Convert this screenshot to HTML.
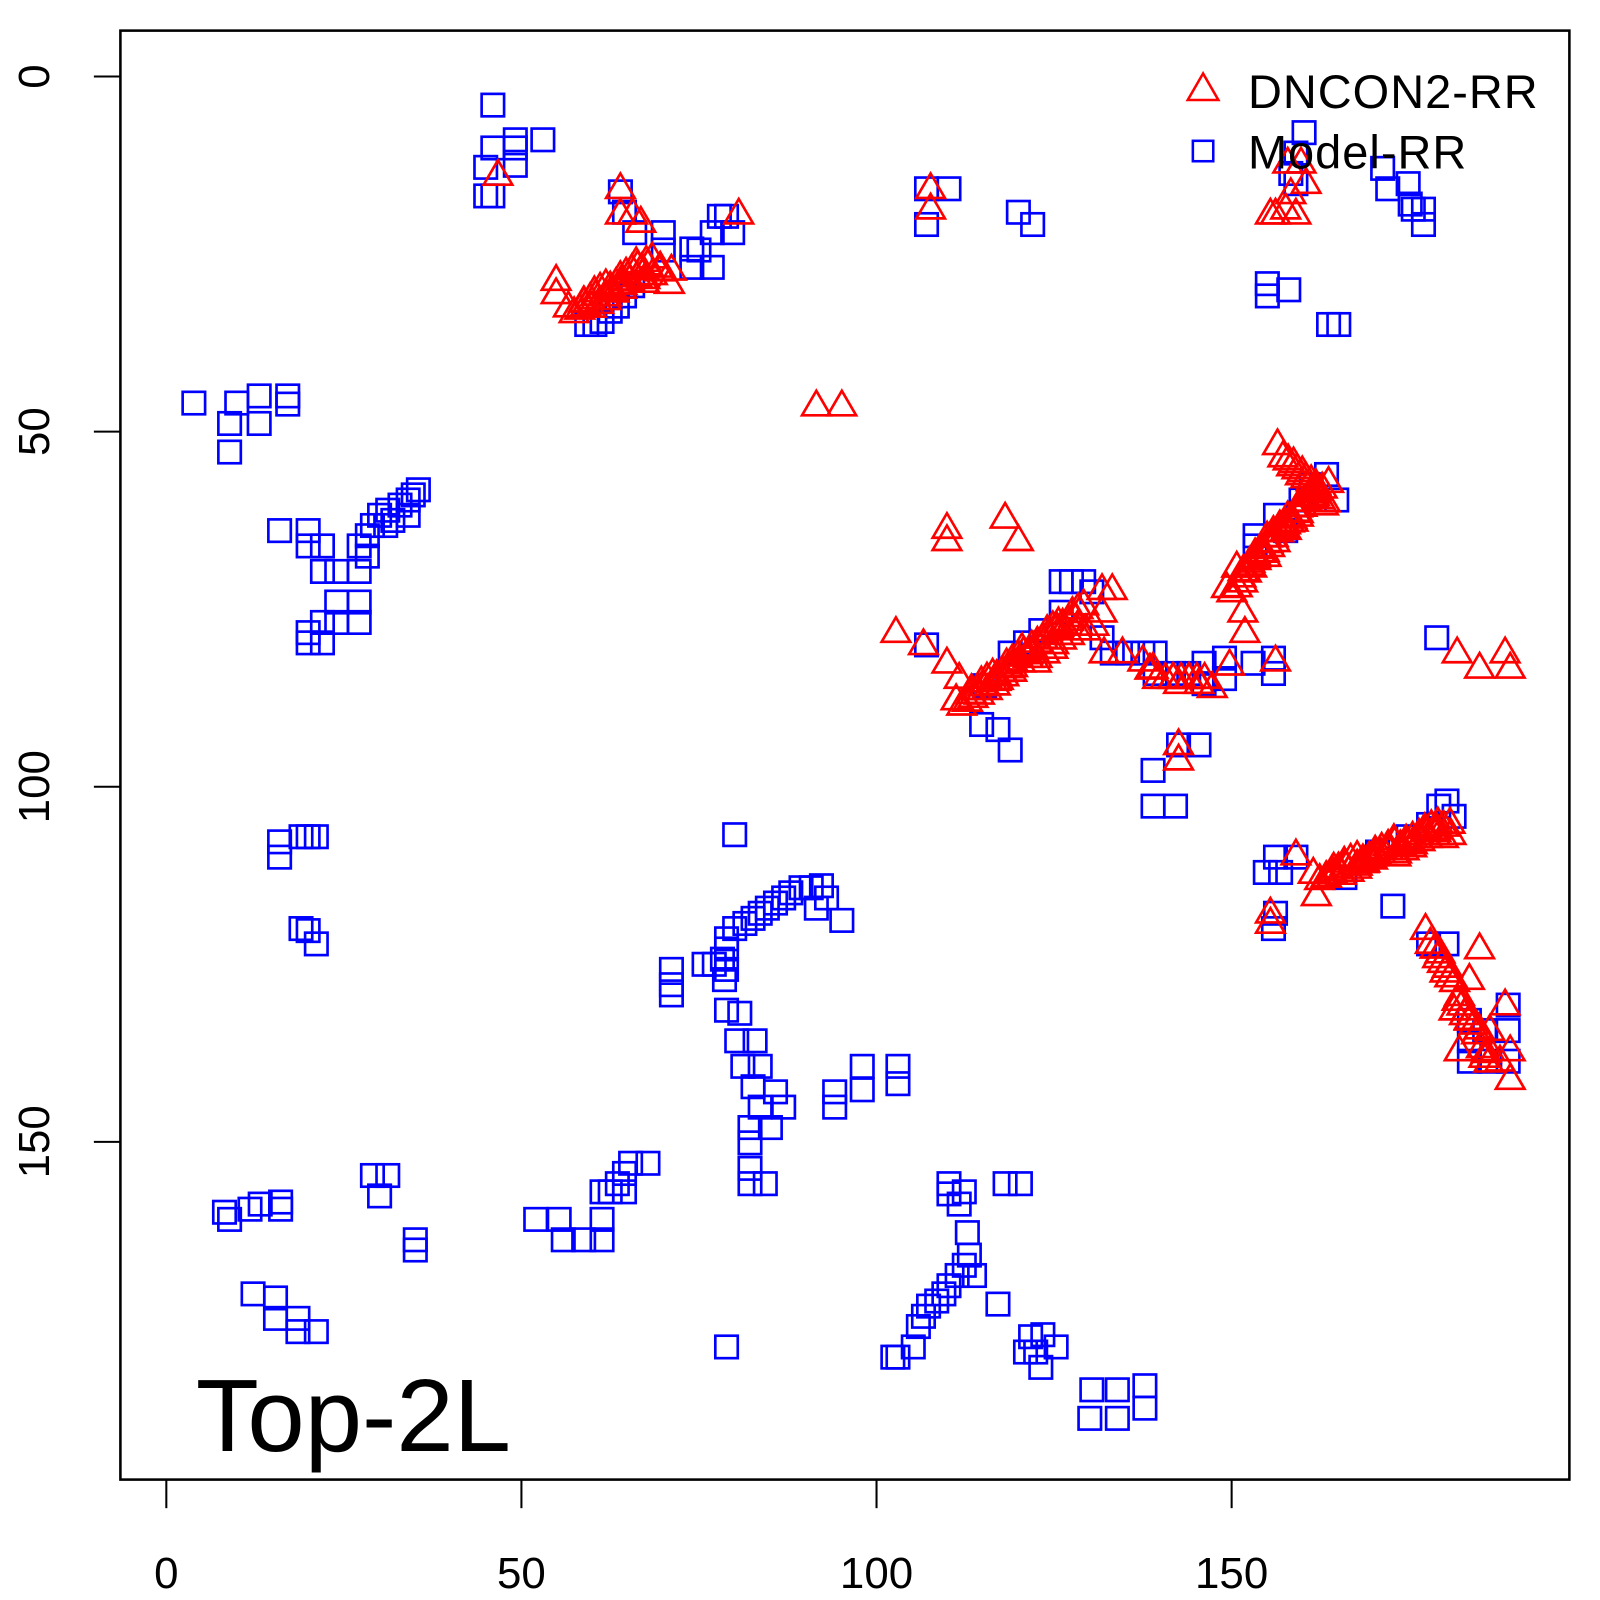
<!DOCTYPE html>
<html><head><meta charset="utf-8"><style>html,body{margin:0;padding:0;background:#fff}svg{display:block}</style></head>
<body>
<svg id="s" width="1600" height="1600" viewBox="0 0 1568 1568" xmlns="http://www.w3.org/2000/svg" font-family="Liberation Sans, Arial, sans-serif">
<rect x="0" y="0" width="1568" height="1568" fill="#fff"/>
<g id="blue" fill="none" stroke="#0000ff" stroke-width="2.6"></g>
<g id="red" fill="none" stroke="#ff0000" stroke-width="2.6"></g>
<rect x="118" y="30" width="1420" height="1420" fill="none" stroke="#000" stroke-width="2.5"/>
<g stroke="#000" stroke-width="2">
<line x1="163" y1="1450" x2="163" y2="1478"/><line x1="511" y1="1450" x2="511" y2="1478"/>
<line x1="859" y1="1450" x2="859" y2="1478"/><line x1="1207" y1="1450" x2="1207" y2="1478"/>
<line x1="92" y1="75" x2="118" y2="75"/><line x1="92" y1="423" x2="118" y2="423"/>
<line x1="92" y1="771" x2="118" y2="771"/><line x1="92" y1="1119" x2="118" y2="1119"/>
</g>
<g font-size="43" text-anchor="middle" fill="#000">
<text x="163" y="1556">0</text><text x="511" y="1556">50</text><text x="859" y="1556">100</text><text x="1207" y="1556">150</text>
<text transform="translate(48,75) rotate(-90)">0</text>
<text transform="translate(48,423) rotate(-90)">50</text>
<text transform="translate(48,771) rotate(-90)">100</text>
<text transform="translate(48,1119) rotate(-90)">150</text>
</g>
<text x="192" y="1422" font-size="101" fill="#000">Top-2L</text>
<g font-size="46" fill="#000" letter-spacing="1"><text x="1223" y="106">DNCON2-RR</text><text x="1223" y="165">Model-RR</text></g>
<path d="M1179,72 L1164,98 L1194,98 Z" fill="none" stroke="#ff0000" stroke-width="2.5"/>
<rect x="1169" y="138" width="20" height="20" fill="none" stroke="#0000ff" stroke-width="2.5"/>
<script>
var B=[[483,103],[476,164],[476,192],[483,192],[483,145],[505,145],[505,162],[505,137],[532,137],
[575,318],[583,318],[590,315],[598,305],[605,300],[612,290],[620,280],[608,188],[612,208],[622,228],[650,228],[650,245],[678,262],[678,244],[698,262],[698,228],[705,212],[712,212],[718,228],[685,245],
[908,185],[930,185],[908,220],[998,208],[1012,220],
[1242,278],[1242,290],[1263,284],[1302,318],[1312,318],[1278,130],[1270,150],[1265,170],[1270,180],[1355,165],[1360,185],[1380,180],[1382,200],[1395,205],[1395,220],[1385,205],
[190,395],[232,395],[254,388],[282,388],[282,396],[225,415],[254,415],[225,443],
[274,520],[302,520],[316,535],[302,535],[316,560],[330,560],[352,560],[352,535],[360,525],[360,545],[365,515],[372,505],[380,500],[385,510],[392,495],[400,490],[405,485],[410,480],[400,505],[378,515],[352,590],[330,590],[330,610],[352,610],[316,610],[302,620],[316,630],[302,630],
[908,632],[965,672],[962,710],[978,715],[990,735],[990,640],[1005,630],[1020,618],[1040,600],[1040,570],[1050,570],[1062,570],[1070,580],[1080,625],[1090,640],[1105,640],[1120,640],[1132,640],[1132,660],[1150,660],[1165,660],[1180,670],[1200,645],[1200,665],[1180,650],[1175,730],[1155,730],[1130,755],[1130,790],[1152,790],[1248,645],[1248,660],[1228,650],[1230,525],[1250,505],[1275,490],[1285,475],[1300,465],[1310,490],[1230,535],[1260,520],[1408,625],
[1250,840],[1255,855],[1270,840],[1250,895],[1248,910],[1240,855],[1365,888],[1400,925],[1418,925],[1318,860],[1350,835],[1380,820],[1410,790],[1418,785],[1425,800],[1400,808],[1440,1000],[1455,1010],[1478,985],[1478,1010],[1440,1040],[1460,1040],[1478,1040],[1440,1020],
[274,825],[274,840],[295,820],[302,820],[310,820],[295,910],[302,912],[310,925],
[720,818],[658,950],[658,965],[658,975],[690,945],[700,945],[708,940],[712,930],[712,920],[720,910],[730,905],[738,900],[745,895],[752,890],[760,885],[768,880],[775,875],[785,870],[795,870],[805,868],[810,880],[800,890],[825,902],[710,960],[712,950],[712,990],[725,993],[722,1020],[740,1020],[728,1045],[745,1045],[738,1065],[760,1070],[745,1085],[768,1085],[735,1105],[755,1105],[735,1120],[735,1145],[735,1160],[750,1160],[818,1070],[818,1085],[845,1045],[845,1068],[880,1045],[880,1062],
[220,1188],[225,1195],[245,1185],[255,1180],[275,1178],[275,1185],[248,1268],[270,1272],[270,1292],[292,1292],[292,1305],[310,1305],[365,1152],[380,1152],[372,1172],[407,1215],[407,1225],
[525,1195],[548,1195],[552,1215],[572,1215],[590,1215],[590,1195],[590,1168],[598,1168],[605,1160],[612,1150],[618,1140],[635,1140],[612,1168],[712,1320],
[875,1330],[880,1330],[895,1320],[900,1300],[905,1290],[910,1280],[918,1275],[925,1268],[930,1260],[938,1250],[945,1240],[950,1230],[955,1250],[948,1208],[940,1180],[930,1160],[945,1168],[930,1170],[985,1160],[1000,1160],[978,1278],[1010,1310],[1015,1325],[1020,1340],[1035,1320],[1005,1325],[1070,1362],[1068,1390],[1095,1362],[1095,1390],[1122,1358],[1122,1380],[1022,1308]];
var R=[[488,172],[545,275],[545,288],[608,185],[608,210],[620,210],[628,218],[658,265],[656,278],[724,210],
[912,185],[912,205],[800,398],[825,398],[928,518],[928,530],[985,508],[998,530],[878,620],[905,632],[928,650],[940,665],
[1080,578],[1090,578],[1080,600],[1082,640],[1100,640],[1120,648],[1130,655],[1155,670],[1175,670],[1205,652],[1220,620],[1218,600],[1250,648],[1155,730],[1155,745],[1428,640],[1450,655],[1475,640],[1480,655],
[1262,160],[1265,190],[1250,210],[1270,210],[1280,180],[1275,160],[1245,210],[1260,205],
[1270,838],[1245,895],[1245,905],[1290,878],[1300,860],[1425,990],[1440,1000],[1460,1010],[1475,985],[1460,1030],[1480,1030],[1480,1058],[1430,1030],[1470,1040],[1450,930],[1440,960]];
function seg(a,b,n,arr,j){for(var i=0;i<=n;i++){var t=i/n;arr.push([a[0]+(b[0]-a[0])*t+(j?((i*37)%7-3):0),a[1]+(b[1]-a[1])*t+(j?((i*53)%9-4):0)]);}}
seg([560,305],[640,252],22,R,1);seg([575,300],[650,262],14,R,1);
seg([940,690],[1060,595],34,R,1);seg([955,680],[1070,610],20,R,1);
seg([1205,580],[1290,480],26,R,1);seg([1215,560],[1300,470],20,R,1);seg([1255,440],[1300,495],14,R,1);
seg([1290,860],[1420,805],30,R,1);seg([1310,855],[1420,815],20,R,1);
seg([1400,915],[1460,1040],22,R,1);
seg([1130,660],[1185,670],10,R,1);
var bg=document.getElementById('blue'),rg=document.getElementById('red'),ns='http://www.w3.org/2000/svg';
B.forEach(function(p){var r=document.createElementNS(ns,'rect');r.setAttribute('x',p[0]-11);r.setAttribute('y',p[1]-11);r.setAttribute('width',22);r.setAttribute('height',22);bg.appendChild(r);});
R.forEach(function(p){var q=document.createElementNS(ns,'path');var x=p[0],y=p[1];q.setAttribute('d','M'+x+','+(y-15)+' L'+(x-14)+','+(y+9)+' L'+(x+14)+','+(y+9)+' Z');rg.appendChild(q);});
</script>
</svg>
</body></html>
